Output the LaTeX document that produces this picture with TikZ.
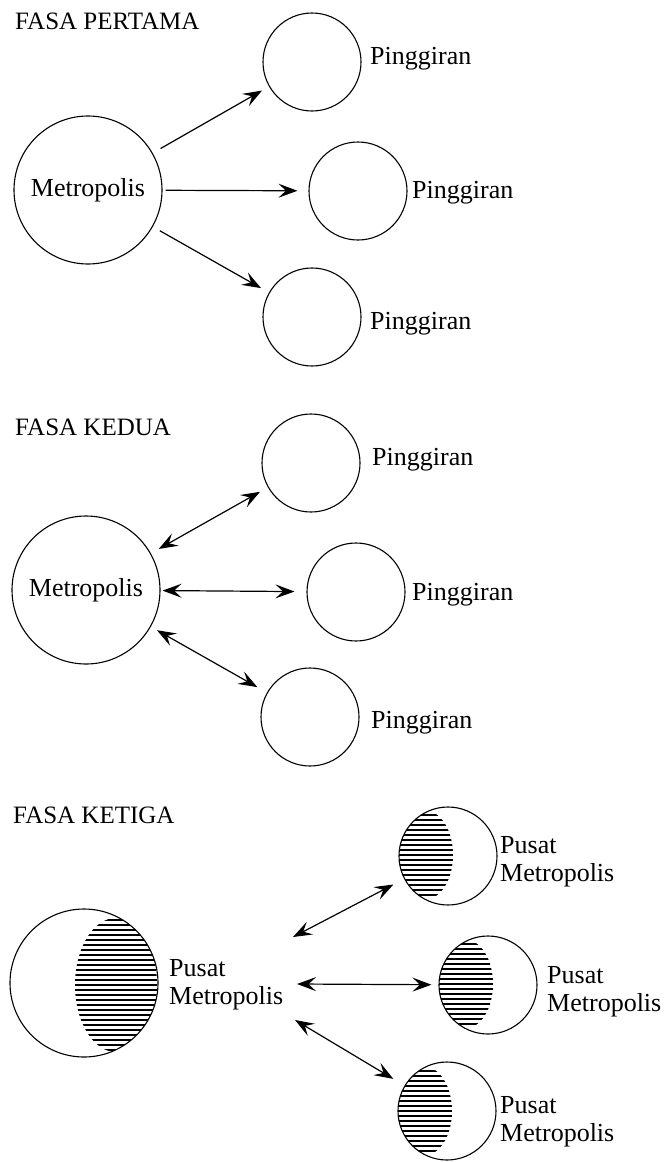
\documentclass[tikz,border=0pt]{standalone}
\usepackage{fontspec}
\setmainfont{Liberation Serif}
\usetikzlibrary{arrows.meta}
\newcommand{\myhatch}[7]{%
  \begin{scope}
    \clip (#1,#2) circle (#3pt);
    \clip (#4,#5) ellipse (#6pt and #7pt);
    \foreach \yy in {-70,-65,...,70}
      \draw[line width=2.8pt] (#4-#6-3,#5+\yy) -- (#4+#6+3,#5+\yy);
  \end{scope}}
\begin{document}
\begin{tikzpicture}[x=1pt,y=-1pt,
  ring/.style={draw, circle, line width=1.1pt, inner sep=0pt, minimum size=#1,
               font=\fontsize{26}{28}\selectfont},
  lbl/.style={anchor=base west, inner sep=0pt, font=\fontsize{26}{28}\selectfont},
  lbl2/.style={anchor=north west, inner sep=0pt, align=left, font=\fontsize{26}{28}\selectfont},
  ttl/.style={anchor=base west, inner sep=0pt, font=\fontsize{25}{28}\selectfont},
  tip/.tip={Stealth[length=19pt,width=14pt,inset=7.5pt]},
  arr/.style={line width=1.2pt, -tip},
  darr/.style={line width=1.2pt, tip-tip}]
\useasboundingbox (0,0) rectangle (666,1162);

% ---------- FASA PERTAMA ----------
\node[ttl] (t1) at (15,29) {FASA PERTAMA};
\node[ring=148pt] (M1) at (88,190) {Metropolis};
\node[ring=98pt] (P1a) at (312,62) {};
\node[ring=98pt] (P1b) at (358,191) {};
\node[ring=98pt] (P1c) at (312,317) {};
\node[lbl] (L1a) at (370,64) {Pinggiran};
\node[lbl] (L1b) at (412,198) {Pinggiran};
\node[lbl] (L1c) at (370,329) {Pinggiran};
\draw[arr, shorten <=9pt, shorten >=8pt] (M1) -- (P1a);
\draw[arr, shorten <=3pt, shorten >=11pt] (M1) -- (P1b);
\draw[arr, shorten <=8pt, shorten >=9pt] (M1) -- (P1c);

% ---------- FASA KEDUA ----------
\node[ttl] (t2) at (15,435) {FASA KEDUA};
\node[ring=148pt] (M2) at (86,590) {Metropolis};
\node[ring=98pt] (P2a) at (311,463) {};
\node[ring=98pt] (P2b) at (356,592) {};
\node[ring=98pt] (P2c) at (310,717) {};
\node[lbl] (L2a) at (372,465) {Pinggiran};
\node[lbl] (L2b) at (412,600) {Pinggiran};
\node[lbl] (L2c) at (371,728) {Pinggiran};
\draw[darr, shorten <=9pt, shorten >=9pt] (M2) -- (P2a);
\draw[darr, shorten <=2pt, shorten >=12pt] (M2) -- (P2b);
\draw[darr, shorten <=7pt, shorten >=11pt] (M2) -- (P2c);

% ---------- FASA KETIGA ----------
\node[ttl] (t3) at (13,823) {FASA KETIGA};
\myhatch{84}{983}{74}{116}{985}{41}{67}
\myhatch{448}{856}{49}{426}{855}{27}{44}
\myhatch{488}{985}{49}{466}{984}{27}{44}
\myhatch{447}{1111}{49}{425}{1111}{27}{44}
\node[ring=148pt] (C3) at (84,983) {};
\node[ring=98pt] (R1) at (448,856) {};
\node[ring=98pt] (R2) at (488,985) {};
\node[ring=98pt] (R3) at (447,1111) {};
\node[lbl2] (LC) at (169,959) {Pusat\\Metropolis};
\node[lbl2] (LR1) at (500,836) {Pusat\\Metropolis};
\node[lbl2] (LR2) at (547,966) {Pusat\\Metropolis};
\node[lbl2] (LR3) at (500,1096) {Pusat\\Metropolis};
\coordinate (s1) at (293,937);
\coordinate (s2) at (297,984);
\coordinate (s3) at (295,1020);
\draw[darr, shorten >=12pt] (s1) -- (R1);
\draw[darr, shorten >=7pt] (s2) -- (R2);
\draw[darr, shorten >=13pt] (s3) -- (R3);
\end{tikzpicture}
\end{document}
